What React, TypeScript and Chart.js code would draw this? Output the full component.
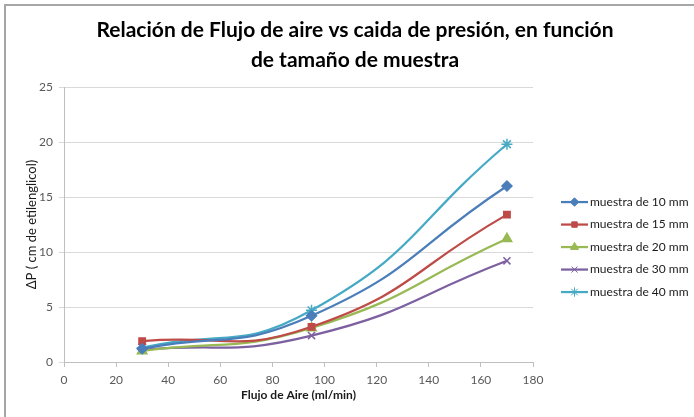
import React, { useEffect, useRef } from 'react';
import { Chart, registerables } from 'chart.js';
import { drawPoint } from 'chart.js/helpers';

Chart.register(...registerables);

// Air flow (ml/min) at which the pressure drop was measured
const flujo = [30, 95, 170];

// Pressure drop ΔP (cm of ethylene glycol) per sample size
const muestra10 = [1.2, 4.2, 16.0];
const muestra15 = [1.9, 3.2, 13.4];
const muestra20 = [1.0, 3.1, 11.2];
const muestra30 = [1.1, 2.4, 9.2];
const muestra40 = [1.3, 4.7, 19.8];

const seriesLabels = [
  'muestra de 10 mm',
  'muestra de 15 mm',
  'muestra de 20 mm',
  'muestra de 30 mm',
  'muestra de 40 mm',
];
const seriesValues = [muestra10, muestra15, muestra20, muestra30, muestra40];
const seriesColors = ['#4A7EBB', '#BE4B48', '#98B954', '#7D60A0', '#46AAC5'];
const seriesMarkers = ['rectRot', 'rect', 'triangle', 'crossRot', 'star'];
const markerRadii = [5, 4.5, 5.5, 5, 5.5];

const titleLines = [
  'Relación de Flujo de aire vs caida de presión, en función',
  'de tamaño de muestra',
];
const xTitle = 'Flujo de Aire (ml/min)';
const yTitle = 'ΔP ( cm de etilenglicol)';

const FONT = 'Lato, "Open Sans", "Liberation Sans", sans-serif';

// Legend on the right: a short line with the series marker, then the label
const lineLegend = {
  id: 'lineLegend',
  afterDraw(chart: any) {
    const { ctx, chartArea } = chart;
    const x0 = chartArea.right + 28;
    const lineLen = 27;
    const y0 = chartArea.top + 115;
    const step = 22.5;
    ctx.save();
    chart.data.datasets.forEach((ds: any, i: number) => {
      const y = y0 + i * step;
      ctx.strokeStyle = ds.borderColor;
      ctx.lineWidth = 2.25;
      ctx.beginPath();
      ctx.moveTo(x0, y);
      ctx.lineTo(x0 + lineLen, y);
      ctx.stroke();
      ctx.fillStyle = ds.backgroundColor;
      ctx.strokeStyle = ds.borderColor;
      ctx.lineWidth = 1;
      drawPoint(ctx, { pointStyle: ds.pointStyle, radius: ds.pointRadius * 0.85, borderWidth: 1 }, x0 + lineLen / 2, y);
      ctx.fillStyle = '#1a1a1a';
      ctx.font = `12px ${FONT}`;
      ctx.textBaseline = 'middle';
      ctx.textAlign = 'left';
      ctx.fillText(ds.label, x0 + lineLen + 2, y);
    });
    ctx.restore();
  },
};

// Thin grey frame along the top and left edges
const frame = {
  id: 'frame',
  afterDraw(chart: any) {
    const { ctx, width, height } = chart;
    ctx.save();
    ctx.strokeStyle = '#a6a6a6';
    ctx.lineWidth = 2;
    ctx.beginPath();
    ctx.moveTo(5, height);
    ctx.lineTo(5, 5);
    ctx.lineTo(width, 5);
    ctx.stroke();
    ctx.restore();
  },
};

export default function App() {
  const canvasRef = useRef<HTMLCanvasElement | null>(null);

  useEffect(() => {
    if (!canvasRef.current) return;
    const chart = new Chart(canvasRef.current, {
      type: 'scatter',
      data: {
        datasets: seriesValues.map((vals, i) => ({
          label: seriesLabels[i],
          data: flujo.map((x, j) => ({ x, y: vals[j] })),
          showLine: true,
          tension: 0.5,
          borderColor: seriesColors[i],
          backgroundColor: seriesColors[i],
          borderWidth: 2.25,
          pointStyle: seriesMarkers[i],
          pointRadius: markerRadii[i],
          pointBorderWidth: 1.5,
        })),
      },
      plugins: [lineLegend, frame],
      options: {
        animation: false,
        responsive: false,
        maintainAspectRatio: false,
        layout: { padding: { left: 16, right: 0, top: 0, bottom: 0 } },
        plugins: {
          legend: { display: false },
          tooltip: { enabled: false },
          title: {
            display: true,
            text: titleLines,
            color: '#000',
            font: { family: FONT, size: 21, weight: 'bold', lineHeight: 1.43 },
            padding: { top: 15, bottom: 12 },
          },
        },
        scales: {
          x: {
            type: 'linear',
            min: 0,
            max: 180,
            ticks: { stepSize: 20, color: '#595959', font: { family: FONT, size: 12 }, padding: 6 },
            grid: { display: true, drawOnChartArea: false, drawTicks: true, tickLength: 5, color: '#bfbfbf' },
            border: { color: '#bfbfbf', width: 1 },
            title: {
              display: true,
              text: xTitle,
              color: '#1a1a1a',
              font: { family: FONT, size: 12, weight: 'bold' },
              padding: { top: 2, bottom: 15 },
            },
            afterFit(scale: any) {
              scale.height = 55;
            },
          },
          y: {
            type: 'linear',
            min: 0,
            max: 25,
            ticks: { stepSize: 5, color: '#595959', font: { family: FONT, size: 12 }, padding: 6 },
            grid: { color: '#d9d9d9', tickLength: 5, drawTicks: true },
            border: { color: '#bfbfbf', width: 1 },
            title: {
              display: true,
              text: yTitle,
              color: '#1a1a1a',
              font: { family: FONT, size: 13 },
              padding: { top: 8, bottom: 6 },
            },
            afterFit(scale: any) {
              scale.width = 48;
            },
          },
          // empty band on the right that holds the legend
          legendSpace: {
            type: 'linear',
            position: 'right',
            display: true,
            grid: { display: false },
            ticks: { display: false },
            border: { display: false },
            afterFit(scale: any) {
              scale.width = 161;
            },
          },
        },
      },
    });
    return () => chart.destroy();
  }, []);

  return (
    <div style={{ position: 'absolute', left: 0, top: 0, width: 694, height: 417, background: '#fff' }}>
      <canvas ref={canvasRef} width={694} height={417} style={{ display: 'block' }} />
    </div>
  );
}
